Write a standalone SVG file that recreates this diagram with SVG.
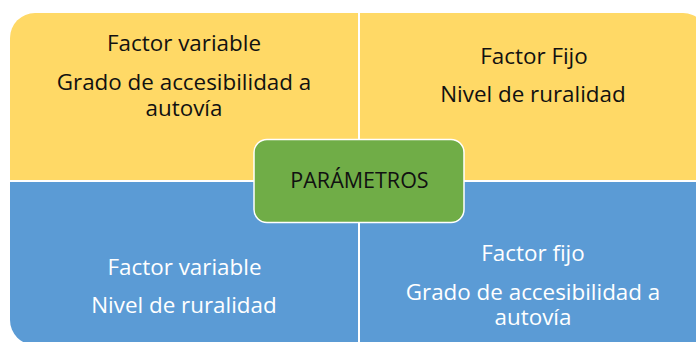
<svg xmlns="http://www.w3.org/2000/svg" width="696" height="342" viewBox="0 0 696 342">
<style>
.t{font-family:"Open Sans","Liberation Sans",sans-serif;font-size:22.4px;text-anchor:middle}
.dk{fill:#111111}
.lt{fill:#ffffff}
.y{fill:#FFD966}
.b{fill:#5B9BD5}
</style>
<rect width="696" height="342" fill="#ffffff"/>
<g id="q-top-left">
<path class="y" d="M10 180 V38 A25 25 0 0 1 35 13 H358 V180 Z"/>
<text class="t dk" x="184" y="51">Factor variable</text>
<text class="t dk" x="184" y="90">Grado de accesibilidad a</text>
<text class="t dk" x="184" y="115.5">autovía</text>
</g>
<g id="q-top-right">
<path class="y" d="M360 13 H683 A25 25 0 0 1 708 38 V180 H360 Z"/>
<text class="t dk" x="534" y="64">Factor Fijo</text>
<text class="t dk" x="533" y="102">Nivel de ruralidad</text>
</g>
<g id="q-bottom-left">
<path class="b" d="M10 182 H358 V345 H35 A25 25 0 0 1 10 320 Z"/>
<text class="t lt" x="184.5" y="275">Factor variable</text>
<text class="t lt" x="184" y="313">Nivel de ruralidad</text>
</g>
<g id="q-bottom-right">
<path class="b" d="M360 182 H708 V345 H360 Z"/>
<text class="t lt" x="533" y="261">Factor fijo</text>
<text class="t lt" x="533" y="300">Grado de accesibilidad a</text>
<text class="t lt" x="533" y="325">autovía</text>
</g>
<g id="center">
<rect x="254" y="139.5" width="210" height="83" rx="13" ry="13" fill="#70AD47" stroke="#ffffff" stroke-width="1.5"/>
<text class="t dk" x="359.5" y="188" style="font-size:21.5px">PARÁMETROS</text>
</g>
<g id="connectors"></g>
</svg>
